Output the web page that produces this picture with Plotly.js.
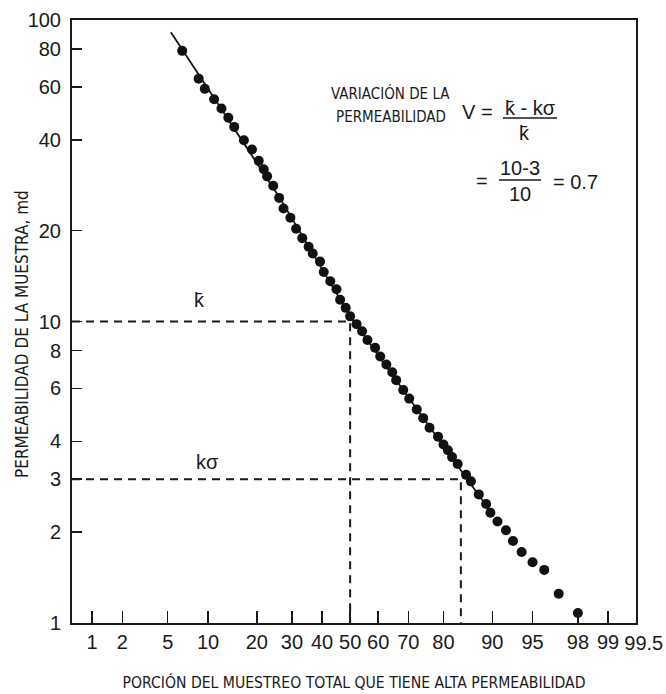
<!DOCTYPE html>
<html>
<head>
<meta charset="utf-8">
<script src="https://cdn.plot.ly/plotly-3.0.1.min.js"></script>
<style>
html,body{margin:0;padding:0;background:#fff;}
#chart{width:666px;height:694px;}
</style>
</head>
<body>
<div id="chart"></div>
<script>
// ---- data ----
const samplePct = [6.5, 8.6, 9.5, 11.0, 12.3, 13.6, 14.8, 16.9, 18.8, 20.5, 21.8, 22.7, 24.4, 26.1, 27.4, 29.5, 31.3, 33.3, 35.4, 36.8, 39.3, 40.6, 42.9, 45.1, 46.4, 48.4, 50.0, 52.3, 54.3, 56.2, 58.9, 60.7, 62.8, 64.8, 66.1, 68.4, 70.3, 72.6, 74.5, 76.3, 78.6, 80.0, 81.1, 82.1, 83.4, 85.2, 86.2, 87.7, 89.0, 89.7, 90.8, 92.0, 92.9, 93.9, 95.0, 96.0, 97.0, 98.0];
const samplePerm = [79.0, 63.9, 59.1, 54.6, 50.9, 47.4, 44.2, 39.9, 37.2, 34.1, 32.0, 30.3, 28.2, 25.7, 23.7, 22.1, 20.3, 18.9, 17.7, 16.8, 15.8, 14.6, 13.6, 12.8, 11.8, 11.1, 10.4, 9.8, 9.28, 8.68, 8.18, 7.65, 7.20, 6.79, 6.39, 5.93, 5.55, 5.11, 4.78, 4.44, 4.15, 3.91, 3.74, 3.55, 3.37, 3.10, 2.95, 2.67, 2.48, 2.32, 2.17, 2.03, 1.87, 1.72, 1.59, 1.50, 1.25, 1.08];
const fitPct = [5.3, 26.1, 50.0, 80.0, 90.2];
const fitPerm = [91, 25.9, 10.4, 3.88, 2.27];
const kMeanPct = 50.0, kMean = 10;
const kSigmaPct = 84.1, kSigma = 3;
const xTickPct = [1, 2, 5, 10, 20, 30, 40, 50, 60, 70, 80, 90, 95, 98, 99];
const xTickText = ['1','2','5','10','20','30','40','50','60','70','80','90','95','98','99'];
const xEndPct = 99.5, xEndText = '99.5';
const yTickVals = [1, 2, 3, 4, 6, 8, 10, 20, 40, 60, 80, 100];
const yTickText = ['1','2','3','4','6','8','10','20','40','60','80','100'];
const xTitle = 'PORCIÓN DEL MUESTREO TOTAL QUE TIENE ALTA PERMEABILIDAD';
const yTitle = 'PERMEABILIDAD DE LA MUESTRA, md';

// inverse normal CDF (probability-paper x scale)
function probit(p) {
  const a=[-3.969683028665376e+01,2.209460984245205e+02,-2.759285104469687e+02,1.383577518672690e+02,-3.066479806614716e+01,2.506628277459239e+00];
  const b=[-5.447609879822406e+01,1.615858368580409e+02,-1.556989798598866e+02,6.680131188771972e+01,-1.328068155288572e+01];
  const c=[-7.784894002430293e-03,-3.223964580411365e-01,-2.400758277161838e+00,-2.549732539343734e+00,4.374664141464968e+00,2.938163982698783e+00];
  const d=[7.784695709041462e-03,3.224671290700398e-01,2.445134137142996e+00,3.754408661907416e+00];
  const pl=0.02425, ph=1-pl; let q,r;
  if(p<pl){q=Math.sqrt(-2*Math.log(p));return (((((c[0]*q+c[1])*q+c[2])*q+c[3])*q+c[4])*q+c[5])/((((d[0]*q+d[1])*q+d[2])*q+d[3])*q+1);}
  if(p<=ph){q=p-0.5;r=q*q;return (((((a[0]*r+a[1])*r+a[2])*r+a[3])*r+a[4])*r+a[5])*q/(((((b[0]*r+b[1])*r+b[2])*r+b[3])*r+b[4])*r+1);}
  q=Math.sqrt(-2*Math.log(1-p));return -(((((c[0]*q+c[1])*q+c[2])*q+c[3])*q+c[4])*q+c[5])/((((d[0]*q+d[1])*q+d[2])*q+d[3])*q+1);
}
const z = v => probit(v/100);

const X_RANGE = [-2.508, z(xEndPct) + 0.002];
const INK = '#1a1a1a';
const NARROW = '"Liberation Sans Narrow", "DejaVu Sans Condensed", "Liberation Sans", Arial, sans-serif';
const SANS = '"Liberation Sans", Arial, Helvetica, sans-serif';

const dash = {color: INK, width: 2, dash: '8px,6px'};
const traces = [
  {x: [X_RANGE[0], z(kMeanPct), z(kMeanPct)], y: [kMean, kMean, 1], mode: 'lines', line: dash, hoverinfo: 'skip'},
  {x: [X_RANGE[0], z(kSigmaPct), z(kSigmaPct)], y: [kSigma, kSigma, 1], mode: 'lines', line: dash, hoverinfo: 'skip', xaxis: 'x2'},
  {x: fitPct.map(z), y: fitPerm, mode: 'lines', line: {color: INK, width: 1.8}},
  {x: samplePct.map(z), y: samplePerm, mode: 'markers', marker: {color: '#111', size: 10, line: {width: 0}}}
];

// pixel -> paper helpers for the text block
const L = 72, R = 636, T = 20, B = 623;
const px = x => (x - L) / (R - L);
const py = y => (B - y) / (B - T);
function txt(x, y, text, size, family, angle) {
  return {xref: 'paper', yref: 'paper', x: px(x), y: py(y), text: text, showarrow: false,
          textangle: angle || 0,
          xanchor: 'center', yanchor: 'middle', font: {size: size, family: family || SANS, color: INK}};
}
const annotations = [
  txt(22, 334, yTitle, 17, NARROW, -90),
  txt(199, 300, 'k\u0304', 20),
  txt(207, 462, 'k\u03c3', 20),
  txt(390, 93, 'VARIACIÓN DE LA', 15, NARROW),
  txt(391, 117, 'PERMEABILIDAD', 15, NARROW),
  txt(477, 112, 'V =', 20),
  txt(530, 108, 'k\u0304 - k\u03c3', 20),
  txt(524, 133, 'k\u0304', 20),
  txt(482, 181, '=', 20),
  txt(520, 168, '10-3', 20),
  txt(520, 194, '10', 20),
  txt(575, 182, '= 0.7', 20)
];
const bar = (x0, x1, y) => ({type: 'line', xref: 'paper', yref: 'paper', x0: px(x0), x1: px(x1), y0: py(y), y1: py(y), line: {color: INK, width: 1.5}});

const tickFont = {family: SANS, size: 20, color: INK};
const layout = {
  width: 666, height: 694,
  margin: {l: L, r: 666 - R, t: T, b: 694 - B},
  paper_bgcolor: '#fff', plot_bgcolor: '#fff',
  showlegend: false,
  xaxis: {
    type: 'linear', range: X_RANGE, tickvals: xTickPct.map(z), ticktext: xTickText,
    tickangle: 0,
    ticks: 'inside', ticklen: 12, tickwidth: 1.5, tickcolor: INK,
    showline: true, linewidth: 2, linecolor: INK, mirror: true,
    showgrid: false, zeroline: false, ticklabelstandoff: 0,
    tickfont: tickFont,
    title: {text: xTitle, standoff: 25,
            font: {family: NARROW, size: 15.6, color: INK}}
  },
  xaxis2: {
    type: 'linear', range: X_RANGE, overlaying: 'x', anchor: 'y', side: 'bottom',
    tickvals: [z(xEndPct)], ticktext: [xEndText], tickangle: 0,
    ticks: '', showline: false, showgrid: false, zeroline: false,
    ticklabelstandoff: 6, ticklabelshift: 8, tickfont: tickFont
  },
  yaxis: {
    type: 'log', range: [0, 2], tickvals: yTickVals, ticktext: yTickText,
    ticks: 'inside', ticklen: 10, tickwidth: 1.5, tickcolor: INK,
    showline: true, linewidth: 2, linecolor: INK, mirror: true,
    showgrid: false, zeroline: false, ticklabelstandoff: 5,
    tickfont: tickFont
  },
  annotations: annotations,
  shapes: [bar(503, 557, 118), bar(499, 541, 180)]
};

Plotly.newPlot('chart', traces, layout, {staticPlot: true, displayModeBar: false});
</script>
</body>
</html>
